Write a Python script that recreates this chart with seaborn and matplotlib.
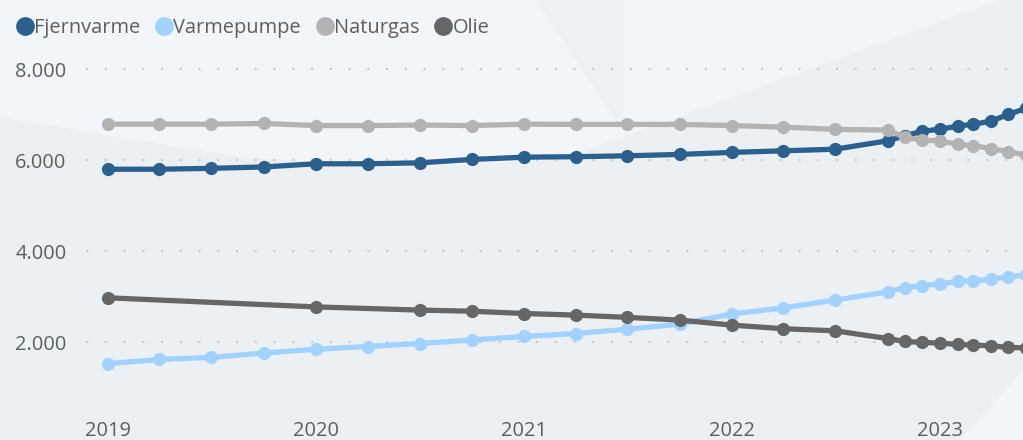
import numpy as np
import pandas as pd
import matplotlib.pyplot as plt
import matplotlib.dates as mdates
from matplotlib.lines import Line2D
from matplotlib.patches import Polygon
from matplotlib.ticker import FuncFormatter
import seaborn as sns

# quarterly up to 2022-10, then monthly
dates = (list(pd.date_range('2019-01-01', '2022-10-01', freq='QS'))
         + list(pd.date_range('2022-11-01', '2023-06-01', freq='MS')))

fjernvarme = [5800, 5800, 5820, 5850, 5920, 5920, 5940, 6015, 6065, 6075, 6095, 6125,
              6170, 6205, 6240, 6425, 6535, 6635, 6680, 6745, 6790, 6855, 7005, 7135]
varmepumpe = [1530, 1620, 1665, 1760, 1845, 1905, 1970, 2050, 2125, 2190, 2285, 2395,
              2620, 2755, 2925, 3105, 3200, 3245, 3280, 3335, 3350, 3385, 3435, 3480]
naturgas = [6790, 6790, 6790, 6805, 6760, 6760, 6770, 6760, 6790, 6785, 6785, 6785,
            6760, 6725, 6675, 6660, 6500, 6440, 6425, 6345, 6315, 6255, 6185, 6110]
olie = [2975, None, None, None, 2775, None, 2705, 2680, 2630, 2595, 2545, 2485,
        2375, 2295, 2250, 2080, 2015, 1995, 1980, 1950, 1935, 1920, 1885, 1875]

series = {'Fjernvarme': fjernvarme, 'Varmepumpe': varmepumpe,
          'Naturgas': naturgas, 'Olie': olie}
colors = {'Fjernvarme': '#2C5F8C', 'Varmepumpe': '#A3D2FF',
          'Naturgas': '#B3B3B3', 'Olie': '#666666'}

df = pd.concat([pd.DataFrame({'dato': dates, 'antal': v, 'type': k})
                for k, v in series.items()]).dropna()

sns.set_style('white')
plt.rcParams['font.family'] = ['Open Sans', 'DejaVu Sans']
text_col = '#605E5C'

fig = plt.figure(figsize=(10.23, 4.40), dpi=100)
fig.patch.set_facecolor('#EBF0F4')

# background decoration
bg = fig.add_axes([0, 0, 1, 1], zorder=0)
bg.set_xlim(0, 1023)
bg.set_ylim(440, 0)
bg.axis('off')
bg.add_patch(Polygon([(0, 0), (1000, 0), (560, 160), (400, 168), (250, 158),
                      (120, 138), (0, 117)], closed=True, fc='#F2F5F9', ec='none'))
bg.add_patch(Polygon([(535, 0), (623, 0), (623, 130)], closed=True, fc='#EDF1F5', ec='none'))
bg.add_patch(Polygon([(960, 440), (1023, 370), (1023, 440)], closed=True, fc='#F2F5F9', ec='none'))

ax = fig.add_axes([86 / 1023, 1 - 415 / 440, 937 / 1023, 355 / 440], zorder=1)
ax.set_facecolor('none')

sns.lineplot(data=df, x='dato', y='antal', hue='type', palette=colors,
             marker='o', markersize=9.5, markeredgewidth=0, linewidth=3.8,
             legend=False, ax=ax)

ax.set_xlim(pd.Timestamp('2018-11-23'), pd.Timestamp('2023-05-27'))
ax.set_ylim(400, 8200)
ax.set_yticks([2000, 4000, 6000, 8000])
ax.yaxis.set_major_formatter(FuncFormatter(lambda v, p: f'{int(v):,}'.replace(',', '.')))
ax.xaxis.set_major_locator(mdates.YearLocator())
ax.xaxis.set_major_formatter(mdates.DateFormatter('%Y'))
ax.grid(axis='y', color='#C8C8C8', linestyle=(0, (1, 8)), linewidth=1.5)
ax.set_axisbelow(True)
ax.tick_params(axis='both', length=0, labelsize=14.4, labelcolor=text_col)
ax.tick_params(axis='y', pad=14)
ax.tick_params(axis='x', pad=4)
ax.set_xlabel('')
ax.set_ylabel('')
sns.despine(ax=ax, left=True, bottom=True)

handles = [Line2D([], [], marker='o', linestyle='none', markersize=13.5,
                  markerfacecolor=c, markeredgewidth=0) for c in colors.values()]
fig.legend(handles, list(colors.keys()), loc='upper left', bbox_to_anchor=(0.002, 0.99),
           ncol=4, frameon=False, fontsize=14.4, labelcolor=text_col,
           handlelength=0.9, handletextpad=0.0, columnspacing=0.75, borderaxespad=0.3)

fig.savefig('out.png', dpi=100, facecolor=fig.get_facecolor())
